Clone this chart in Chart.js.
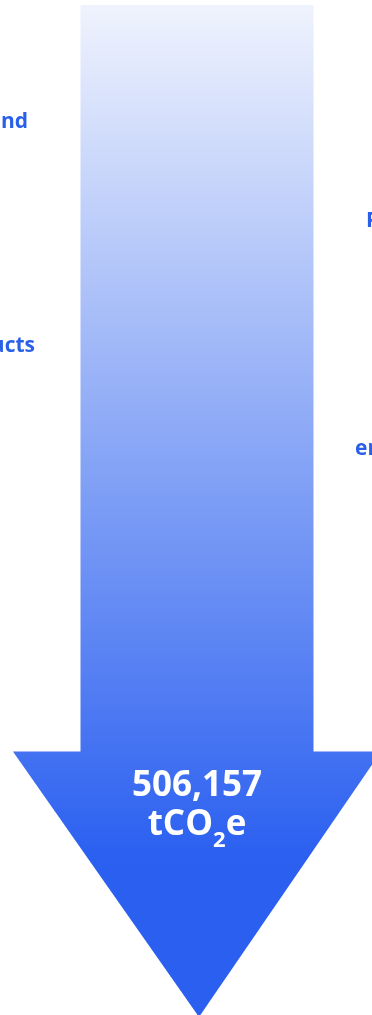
<!DOCTYPE html>
<html>
<head>
<meta charset="utf-8">
<script src="https://cdn.jsdelivr.net/npm/chart.js@4"></script>
<style>
  html, body { margin: 0; padding: 0; background: #fff; overflow: hidden; }
  #wrap { position: relative; width: 372px; height: 1015px; overflow: hidden; }
  #chart { position: absolute; left: 0; top: 0; }
  .side {
    position: absolute; white-space: nowrap;
    font-family: "Open Sans", sans-serif; font-weight: 700; font-size: 21px;
    line-height: 24px; color: #2a5fe8;
  }
  #total {
    position: absolute; left: 97px; width: 200px; top: 763px;
    text-align: center; color: #fff;
    font-family: "Open Sans", sans-serif; font-weight: 700; font-size: 35px;
    line-height: 39px;
  }
  #total sub { font-size: 22px; vertical-align: -12px; line-height: 0; }
</style>
</head>
<body>
<div id="wrap">
  <canvas id="chart" width="372" height="1015"></canvas>
  <div id="total"><div id="total-value"></div><div id="total-unit">tCO<sub>2</sub>e</div></div>
</div>
<script>
// Data
const categories = ['Total emissions'];
const totalEmissions = [506157];
const axisMax = 684400; // shaft covers total, remainder is the arrow head
const leftLabels = ['Upstream transportation and', 'End-of-life treatment of sold products'];
const rightLabels = ['Purchased goods and services', 'energy-related activities'];

// Label placement
const leftPos = [{ right: 344, top: 108 }, { right: 337, top: 332 }];
const rightPos = [{ left: 366, top: 207 }, { left: 355, top: 435 }];

const wrap = document.getElementById('wrap');
leftLabels.forEach((t, i) => {
    const d = document.createElement('div');
    d.className = 'side';
    d.textContent = t;
    d.style.right = leftPos[i].right + 'px';
    d.style.top = leftPos[i].top + 'px';
    wrap.appendChild(d);
});
rightLabels.forEach((t, i) => {
    const d = document.createElement('div');
    d.className = 'side';
    d.textContent = t;
    d.style.left = rightPos[i].left + 'px';
    d.style.top = rightPos[i].top + 'px';
    wrap.appendChild(d);
});
document.getElementById('total-value').textContent = totalEmissions[0].toLocaleString('en-US');

function arrowGradient(chart) {
    const g = chart.ctx.createLinearGradient(0, chart.chartArea.top, 0, 860);
    g.addColorStop(0, '#eff3fd');
    g.addColorStop(1, '#2a5ff0');
    return g;
}

// Arrow head drawn under the shaft, sized from the bar element
const arrowHead = {
    id: 'arrowHead',
    afterDatasetsDraw(chart) {
        const bar = chart.getDatasetMeta(0).data[0];
        const { ctx, chartArea } = chart;
        const top = Math.max(bar.y, bar.base);
        const half = bar.width * 0.79;
        ctx.save();
        ctx.fillStyle = arrowGradient(chart);
        ctx.beginPath();
        ctx.moveTo(bar.x - half, top - 0.5);
        ctx.lineTo(bar.x + half, top - 0.5);
        ctx.lineTo(bar.x + 2, chartArea.bottom + 2);
        ctx.closePath();
        ctx.fill();
        ctx.restore();
    }
};

new Chart(document.getElementById('chart'), {
    type: 'bar',
    data: {
        labels: categories,
        datasets: [{
            data: totalEmissions,
            backgroundColor: (c) => c.chart.chartArea ? arrowGradient(c.chart) : '#8aa8f5',
            borderWidth: 0,
            categoryPercentage: 1,
            barPercentage: 0.6657
        }]
    },
    options: {
        responsive: false,
        animation: false,
        devicePixelRatio: 1,
        layout: { padding: { left: 22, right: 0, top: 5, bottom: 0 } },
        scales: {
            x: { display: false },
            y: { display: false, reverse: true, min: 0, max: axisMax }
        },
        plugins: { legend: { display: false }, tooltip: { enabled: false } }
    },
    plugins: [arrowHead]
});
</script>
</body>
</html>
